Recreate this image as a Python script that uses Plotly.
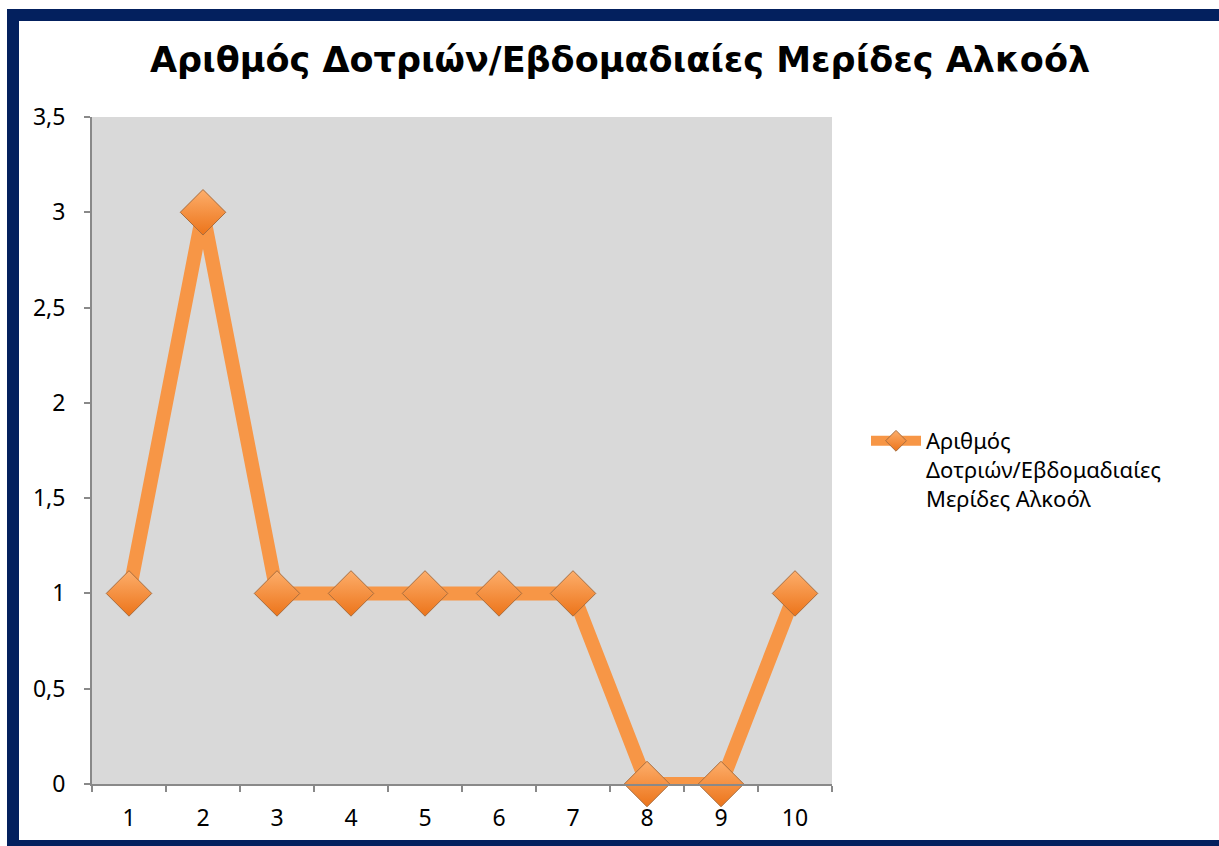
import plotly.graph_objects as go

categories = ["1", "2", "3", "4", "5", "6", "7", "8", "9", "10"]
values = [1, 3, 1, 1, 1, 1, 1, 0, 0, 1]
series_name = "Αριθμός<br>Δοτριών/Εβδομαδιαίες<br>Μερίδες Αλκοόλ"
title_text = "Αριθμός Δοτριών/Εβδομαδιαίες Μερίδες Αλκοόλ"

W, H = 1219, 846
L, R, T, B = 92, 1219 - 832, 117, 846 - 784
pw, ph = W - L - R, H - T - B

def px(x):
    return (x - L) / pw

def py(y):
    return (H - B - y) / ph

fig = go.Figure()
fig.add_trace(go.Scatter(
    x=categories, y=values, mode="lines+markers", name=series_name,
    line=dict(color="#F79646", width=14),
    marker=dict(symbol="diamond", size=35, color="#FDAE6B",
                gradient=dict(type="vertical", color="#EC741A"),
                line=dict(color="#A86D3E", width=1)),
    cliponaxis=False,
))

fig.update_layout(
    width=W, height=H,
    margin=dict(l=L, r=R, t=T, b=B, pad=0),
    paper_bgcolor="white", plot_bgcolor="#D9D9D9",
    separators=",.",
    font=dict(family="Noto Sans, DejaVu Sans, sans-serif", size=23, color="black"),
    title=dict(text="<b>" + title_text + "</b>", x=620 / W, xref="container", xanchor="center",
               y=1 - 60 / H, yref="container", yanchor="middle",
               font=dict(family="DejaVu Sans, sans-serif", size=35, color="black")),
    showlegend=True,
    legend=dict(x=px(866), y=py(420), xanchor="left", yanchor="top", valign="top",
                font=dict(size=22), bgcolor="rgba(0,0,0,0)", itemwidth=50),
    xaxis=dict(type="category", tickson="boundaries", range=[-0.5, 9.5], autorange=False,
               showgrid=False,
               showline=True, linecolor="#898989", linewidth=2,
               ticks="outside", ticklen=6, tickcolor="#898989", tickwidth=2,
               ticklabelstandoff=12, zeroline=False, fixedrange=True),
    yaxis=dict(range=[0, 3.5], autorange=False, dtick=0.5, showgrid=False,
               showline=True, linecolor="#898989", linewidth=2,
               ticks="outside", ticklen=6, tickcolor="#898989", tickwidth=2,
               ticklabelstandoff=14, zeroline=False, fixedrange=True),
    shapes=[
        dict(type="rect", xref="paper", yref="paper", layer="above",
             x0=px(13), x1=px(1228), y0=py(15), y1=py(846),
             line=dict(color="#03205E", width=12), fillcolor="rgba(0,0,0,0)"),
    ],
)

fig.write_html("out.html")
